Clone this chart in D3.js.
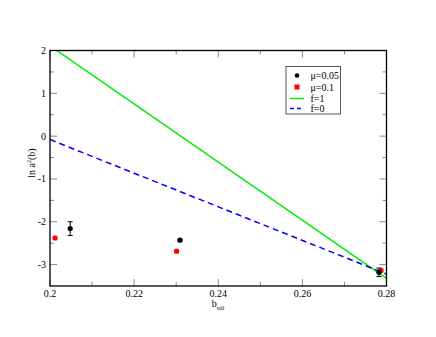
<!DOCTYPE html>
<html><head><meta charset="utf-8">
<script src="https://cdn.jsdelivr.net/npm/d3@7"></script>
<style>body{margin:0;background:#fff}svg{display:block}text{font-family:"Liberation Serif","Times New Roman",Times,serif}</style>
</head><body>
<script>
const xTicks = [0.2, 0.22, 0.24, 0.26, 0.28];
const xTickLabels = ["0.2", "0.22", "0.24", "0.26", "0.28"];
const yTicks = [-3, -2, -1, 0, 1, 2];
const mu005_x = [0.2048, 0.2309, 0.2782];
const mu005_y = [-2.16, -2.43, -3.18];
const mu005_err = [0.16, 0.02, 0.1];
const mu01_x = [0.2012, 0.2301, 0.2787];
const mu01_y = [-2.38, -2.69, -3.14];
const f1_x = [0.2, 0.28];
const f1_y = [2.11, -3.32];
const f0_x = [0.2, 0.28];
const f0_y = [-0.08, -3.22];
const legendLabels = ["\u03bc=0.05", "\u03bc=0.1", "f=1", "f=0"];

const W = 436, H = 337;
const svg = d3.select("body").append("svg").attr("width", W).attr("height", H);
const L = 50, R = 386.5, T = 50.5, B = 286;
const x = d3.scaleLinear().domain([0.2, 0.28]).range([L, R]);
const y = d3.scaleLinear().domain([-3.5, 2]).range([B, T]);

svg.append("defs").append("clipPath").attr("id", "clip").append("rect")
  .attr("x", L).attr("y", T).attr("width", R - L).attr("height", B - T);

// ticks (inward, all sides)
const tickCol = "#888";
const g = svg.append("g");
const xMinor = [0.21, 0.23, 0.25, 0.27];
const yMinor = [-2.5, -1.5, -0.5, 0.5, 1.5];
xTicks.forEach(v => {
  g.append("line").attr("x1", x(v)).attr("x2", x(v)).attr("y1", B).attr("y2", B - 7).attr("stroke", tickCol);
  g.append("line").attr("x1", x(v)).attr("x2", x(v)).attr("y1", T).attr("y2", T + 7).attr("stroke", tickCol);
});
xMinor.forEach(v => {
  g.append("line").attr("x1", x(v)).attr("x2", x(v)).attr("y1", B).attr("y2", B - 4).attr("stroke", tickCol);
  g.append("line").attr("x1", x(v)).attr("x2", x(v)).attr("y1", T).attr("y2", T + 4).attr("stroke", tickCol);
});
yTicks.forEach(v => {
  g.append("line").attr("x1", L).attr("x2", L + 7).attr("y1", y(v)).attr("y2", y(v)).attr("stroke", tickCol);
  g.append("line").attr("x1", R).attr("x2", R - 7).attr("y1", y(v)).attr("y2", y(v)).attr("stroke", tickCol);
});
yMinor.forEach(v => {
  g.append("line").attr("x1", L).attr("x2", L + 4).attr("y1", y(v)).attr("y2", y(v)).attr("stroke", tickCol);
  g.append("line").attr("x1", R).attr("x2", R - 4).attr("y1", y(v)).attr("y2", y(v)).attr("stroke", tickCol);
});

// tick labels
xTicks.forEach((v, i) => {
  svg.append("text").attr("x", x(v)).attr("y", 297).attr("text-anchor", "middle")
    .attr("font-size", 10).text(xTickLabels[i]);
});
yTicks.forEach(v => {
  svg.append("text").attr("x", 46).attr("y", y(v) + 3.5).attr("text-anchor", "end")
    .attr("font-size", 10).text(v);
});

// axis labels
const xl = svg.append("text").attr("x", 218).attr("y", 307).attr("text-anchor", "middle")
  .attr("font-size", 10);
xl.append("tspan").text("b");
xl.append("tspan").attr("font-size", 6).attr("dy", 2.5).text("tail");
const yl = svg.append("text").attr("transform", "translate(35,163) rotate(-90)").attr("text-anchor", "middle")
  .attr("font-size", 10);
yl.append("tspan").text("ln a");
yl.append("tspan").attr("font-size", 6).attr("dy", -4).text("2");
yl.append("tspan").attr("dy", 4).text("(b)");

// lines
const plot = svg.append("g").attr("clip-path", "url(#clip)");
const line = d3.line().x(d => x(d[0])).y(d => y(d[1]));
plot.append("path").datum(d3.zip(f1_x, f1_y)).attr("d", line).attr("fill", "none")
  .attr("stroke", "#00ee00").attr("stroke-width", 1.5);
plot.append("path").datum(d3.zip(f0_x, f0_y)).attr("d", line).attr("fill", "none")
  .attr("stroke", "#0000ff").attr("stroke-width", 1.5).attr("stroke-dasharray", "6,4");

// error bars
mu005_x.forEach((v, i) => {
  const e = mu005_err[i];
  const gx = x(v);
  svg.append("line").attr("x1", gx).attr("x2", gx).attr("y1", y(mu005_y[i] + e)).attr("y2", y(mu005_y[i] - e)).attr("stroke", "#000");
  [e, -e].forEach(s => svg.append("line").attr("x1", gx - 2.5).attr("x2", gx + 2.5)
    .attr("y1", y(mu005_y[i] + s)).attr("y2", y(mu005_y[i] + s)).attr("stroke", "#000"));
});

// points
mu01_x.forEach((v, i) => {
  svg.append("rect").attr("x", x(v) - 2.5).attr("y", y(mu01_y[i]) - 2.5).attr("width", 5).attr("height", 5)
    .attr("rx", 1.5).attr("fill", "#ff0000");
});
mu005_x.forEach((v, i) => {
  svg.append("circle").attr("cx", x(v)).attr("cy", y(mu005_y[i])).attr("r", 2.6).attr("fill", "#000");
});

// frame
svg.append("rect").attr("x", L).attr("y", T).attr("width", R - L).attr("height", B - T)
  .attr("fill", "none").attr("stroke", "#000").attr("stroke-width", 1.3);

// legend
const lg = svg.append("g");
lg.append("rect").attr("x", 286).attr("y", 66.5).attr("width", 54.5).attr("height", 47.5)
  .attr("fill", "#fff").attr("stroke", "#555").attr("stroke-width", 1);
const ly = [75.5, 87, 98.5, 108.5];
lg.append("circle").attr("cx", 297).attr("cy", ly[0]).attr("r", 2.3).attr("fill", "#000");
lg.append("rect").attr("x", 294.5).attr("y", ly[1] - 2.5).attr("width", 5).attr("height", 5).attr("fill", "#ff0000");
lg.append("line").attr("x1", 290).attr("x2", 304).attr("y1", ly[2]).attr("y2", ly[2]).attr("stroke", "#00ee00").attr("stroke-width", 1.5);
lg.append("line").attr("x1", 290).attr("x2", 304).attr("y1", ly[3]).attr("y2", ly[3]).attr("stroke", "#0000ff").attr("stroke-width", 1.5).attr("stroke-dasharray", "4,3");
legendLabels.forEach((t, i) => {
  lg.append("text").attr("x", 310.5).attr("y", ly[i] + 3.5).attr("font-size", 10).text(t);
});
</script>
</body></html>
